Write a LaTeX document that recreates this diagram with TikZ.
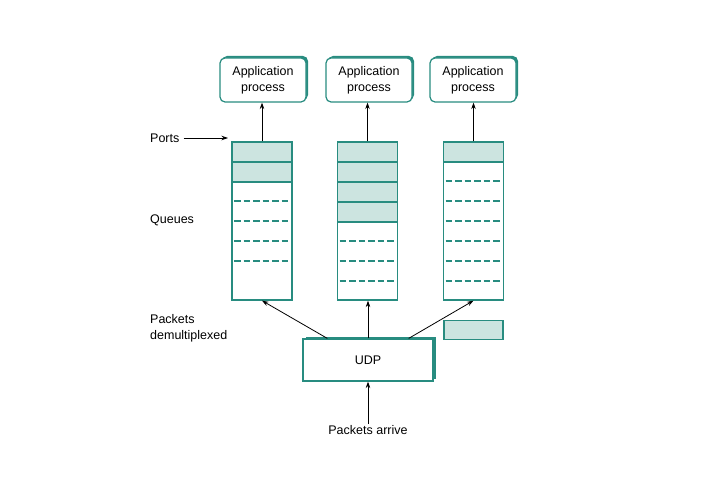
\documentclass[tikz,border=0pt]{standalone}
\usepackage{fontspec}
\setmainfont{Liberation Sans}
\usetikzlibrary{arrows.meta,calc,shadows}
\definecolor{tealline}{RGB}{40,140,128}
\definecolor{tealfill}{RGB}{204,228,224}
\begin{document}
\begin{tikzpicture}[x=1pt,y=-1pt,
  txt/.style={font=\fontsize{12.5}{16}\selectfont, inner sep=1pt},
  arr/.style={-{Stealth[length=6.5pt,width=4.5pt]}, line width=0.8pt, black},
  appbox/.style={txt, draw=tealline, line width=1.2pt, rounded corners=5pt, fill=white,
    minimum width=86pt, minimum height=44pt, align=center,
    drop shadow={shadow xshift=2pt, shadow yshift=2pt, fill=tealline, opacity=1}},
  udpbox/.style={txt, draw=tealline, line width=1.2pt, fill=white,
    minimum width=130pt, minimum height=42pt,
    drop shadow={shadow xshift=2.5pt, shadow yshift=2.5pt, fill=tealline, opacity=1}},
  colbox/.style={draw=tealline, line width=1.3pt, minimum width=60pt, minimum height=158pt, inner sep=0pt},
  sep/.style={draw=tealline, line width=1.3pt},
  dsep/.style={draw=tealline, line width=1.2pt, dash pattern=on 6.5pt off 3pt},
  pktbox/.style={draw=tealline, line width=1.3pt, fill=tealfill, minimum width=59pt, minimum height=19pt, inner sep=0pt}
]
\useasboundingbox (0,0) rectangle (704,478);

% queue contents
\foreach \cx/\nf/\last in {262/2/6, 367.5/4/7, 473.5/1/7} {
  \fill[tealfill] (\cx-30,142) rectangle (\cx+30,142+20*\nf);
  \foreach \k in {1,...,\nf} \draw[sep] (\cx-30,142+20*\k) -- (\cx+30,142+20*\k);
  \pgfmathtruncatemacro\first{\nf+1}
  \foreach \k in {\first,...,\last} \draw[dsep] (\cx-28,142+20*\k-1) -- (\cx+27,142+20*\k-1);
}

% queue outlines
\node[colbox] (col1) at (262,221) {};
\node[colbox] (col2) at (367.5,221) {};
\node[colbox] (col3) at (473.5,221) {};

% application processes
\node[appbox] (app1) at (263,80) {Application\\process};
\node[appbox] (app2) at (369,80) {Application\\process};
\node[appbox] (app3) at (473,80) {Application\\process};

% UDP and packet
\node[udpbox] (udp) at (368,360) {UDP};
\node[pktbox] (pkt) at (473.5,330) {};

% labels
\node[txt, anchor=west] (ports) at (149,138) {Ports};
\node[txt, anchor=west] (queues) at (149,220) {Queues};
\node[txt, anchor=west, align=left] (demux) at (149,328.5) {Packets\\demultiplexed};
\node[txt] (arrive) at (368,430) {Packets arrive};
\coordinate (portsend) at (228,138);

% connectors
\draw[arr, shorten <=3pt] (ports.east) -- (portsend);
\draw[arr] (col1.north) -- (col1.north |- app1.south);
\draw[arr] (col2.north) -- (col2.north |- app2.south);
\draw[arr] (col3.north) -- (col3.north |- app3.south);
\draw[arr] ($(udp.north west)!0.19!(udp.north east)$) -- (col1.south);
\draw[arr] (udp.north) -- (udp.north |- col2.south);
\draw[arr] ($(udp.north west)!0.81!(udp.north east)$) -- (col3.south);
\draw[arr] (arrive.north) -- (udp.south);
\end{tikzpicture}
\end{document}
